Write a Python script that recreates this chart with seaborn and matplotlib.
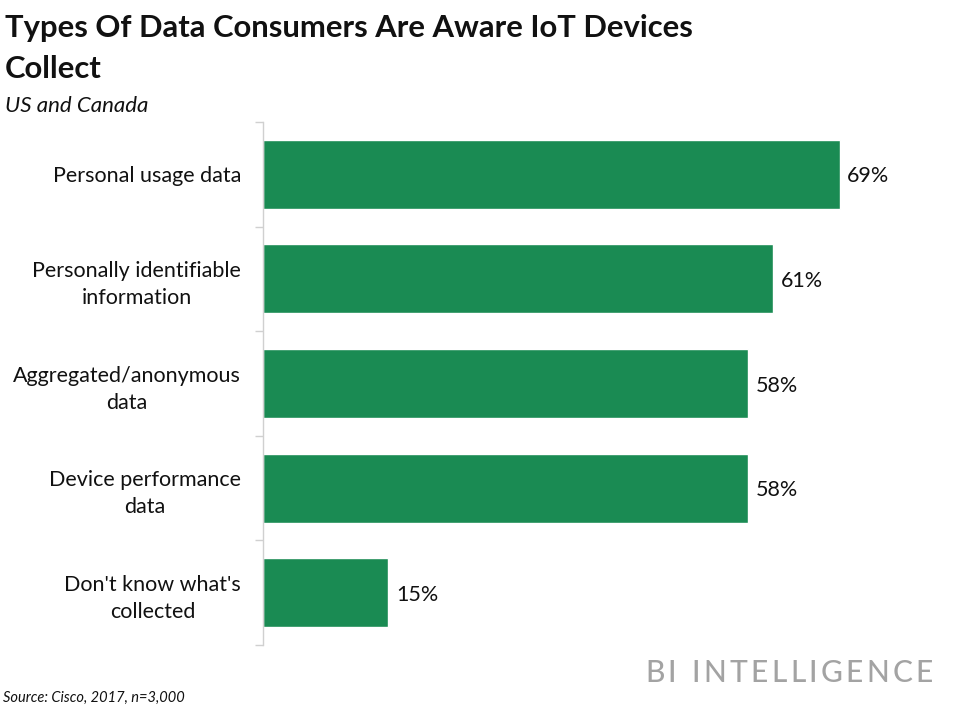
import matplotlib
matplotlib.use("Agg")
import matplotlib.pyplot as plt
import seaborn as sns
import pandas as pd
import numpy as np

categories = ["Personal usage data", "Personally identifiable\ninformation",
              "Aggregated/anonymous\ndata", "Device performance\ndata",
              "Don't know what's\ncollected"]
values = [69, 61, 58, 58, 15]
value_labels = ["69%", "61%", "58%", "58%", "15%"]

title_lines = ["Types Of Data Consumers Are Aware IoT Devices", "Collect"]
subtitle = "US and Canada"
source = "Source: Cisco, 2017, n=3,000"
brand = "BI INTELLIGENCE"

sns.set_theme(style="white")
plt.rcParams['font.family'] = ['Lato', 'DejaVu Sans']

df = pd.DataFrame({"category": categories, "value": values})

fig = plt.figure(figsize=(9.6, 7.1), dpi=100)
ax = fig.add_axes([263/960, 1-645/710, (900-263)/960, (645-122)/710])
sns.barplot(data=df, y="category", x="value", orient="h", color="#1a8b53",
            saturation=1, width=0.66, ax=ax)
ax.set_xlim(0, (900-263)/8.36)
ax.set_ylim(4.5, -0.5)
ax.set_xlabel("")
ax.set_ylabel("")
ax.set_xticks([])
for s in ["top", "right", "bottom"]:
    ax.spines[s].set_visible(False)
ax.spines["left"].set_color("#d0d0d0")
ax.spines["left"].set_linewidth(1)
ax.tick_params(axis="y", which="major", length=0, pad=(263-241)*72/100,
               labelsize=15.5, labelcolor="#111111")
for t in ax.get_yticklabels():
    t.set_horizontalalignment("right")
    t.set_multialignment("center")
    t.set_linespacing(1.45)
ax.set_yticks(np.arange(-0.5, 5, 1), minor=True)
ax.tick_params(axis="y", which="minor", length=6, color="#d0d0d0", width=1, left=True)

for i, (v, lab) in enumerate(zip(values, value_labels)):
    ax.text(v + 0.9, i + 0.02, lab, va="center", ha="left", fontsize=15.5, color="#111111")

for line, yb in zip(title_lines, [37, 78]):
    fig.text(5/960, 1-yb/710, line, ha="left", va="baseline", fontsize=22.3,
             fontweight="bold", color="#111111")
fig.text(5/960, 1-112/710, subtitle, ha="left", va="baseline", fontsize=16, style="italic",
         color="#111111")
fig.text(3/960, 1-698/710, source, ha="left", va="center", fontsize=10.5, style="italic",
         color="#111111")

# letter-spaced brand mark, placed character by character
fig.canvas.draw()
renderer = fig.canvas.get_renderer()
x = 645 / 960
for ch in brand:
    t = fig.text(x, 1-673/710, ch, ha="left", va="center", fontsize=21.5,
                 color="#a3a3a3", fontweight="medium")
    w = t.get_window_extent(renderer).width if ch != " " else 9
    x += (w + 3.3) / 960

fig.savefig("out.png", dpi=100)
